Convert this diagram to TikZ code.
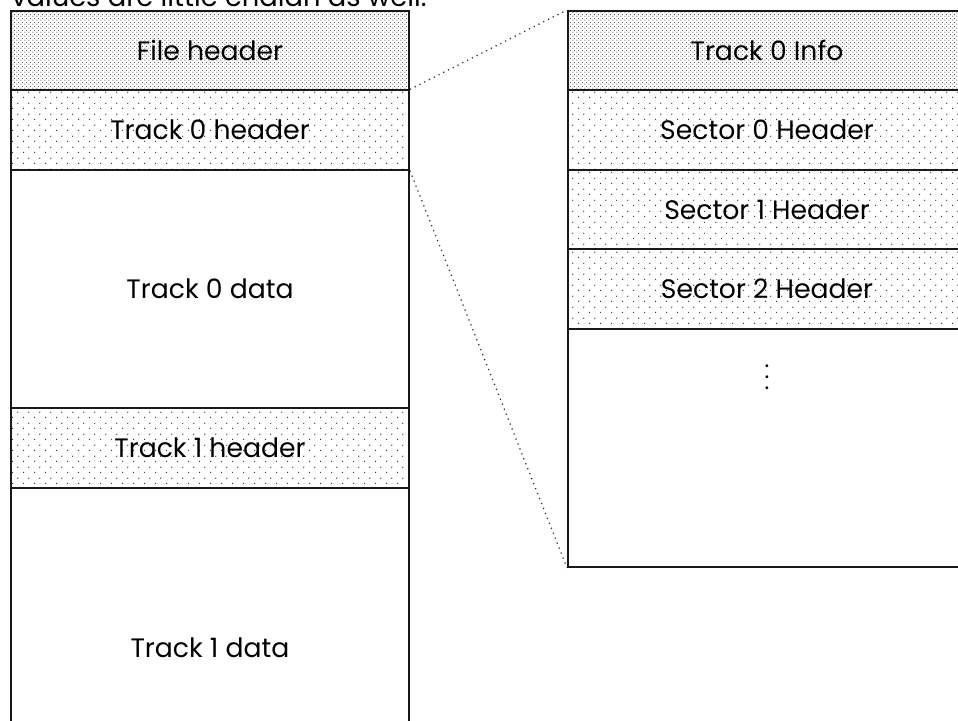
\documentclass[tikz,border=0pt]{standalone}
\usepackage{fontspec}
\setmainfont{Poppins}
\usetikzlibrary{patterns.meta}
\tikzdeclarepattern{name=sparsedots, type=uncolored, bounding box={(0pt,0pt) and (8pt,8pt)}, tile size={(8pt,8pt)},
  code={\pgfpathcircle{\pgfqpoint{2pt}{2pt}}{0.5pt}\pgfpathcircle{\pgfqpoint{6pt}{6pt}}{0.5pt}\pgfusepath{fill}}}
\tikzdeclarepattern{name=densedots, type=uncolored, bounding box={(0pt,0pt) and (3pt,3pt)}, tile size={(3pt,3pt)},
  code={\pgfpathcircle{\pgfqpoint{0.75pt}{0.75pt}}{0.5pt}\pgfpathcircle{\pgfqpoint{2.25pt}{2.25pt}}{0.5pt}\pgfusepath{fill}}}
\tikzset{
  band/.style={draw=black!90, line width=1.4pt, rectangle, inner sep=0pt, minimum width=298.5pt, font=\fontsize{20}{22}\selectfont, text=black},
  hdr/.style={band, minimum height=59.5pt, pattern={sparsedots}, pattern color=black!85},
  dhdr/.style={band, minimum height=59.5pt, pattern={densedots}, pattern color=black!75},
  zoomline/.style={line width=0.9pt, dash pattern=on 0.9pt off 3.1pt, black!85},
}
\begin{document}
\begin{tikzpicture}[x=0.75pt,y=-0.75pt]
\useasboundingbox (0,0) rectangle (958,721);
\clip (0,0) rectangle (958,721);
% clipped caption line at the top
\node[anchor=base west, inner sep=0pt, font=\fontsize{20.5}{22}\selectfont] (cap) at (11,7) {values are little endian as well.};
% left column
\node[dhdr] (fh) at (210,50.5) {File header};
\node[hdr] (t0h) at (210,130) {Track 0 header};
\node[band, minimum height=178.5pt] (t0d) at (210,289) {Track 0 data};
\node[hdr] (t1h) at (210,448) {Track 1 header};
\node[band, minimum height=240pt] (t1d) at (210,648) {Track 1 data};
% right column
\node[dhdr] (ti) at (767,50.5) {Track 0 Info};
\node[hdr] (s0) at (767,130) {Sector 0 Header};
\node[hdr] (s1) at (767,209.5) {Sector 1 Header};
\node[hdr] (s2) at (767,289) {Sector 2 Header};
\node[band, minimum height=178.5pt] (rest) at (767,448) {};
\node[inner sep=0pt, anchor=base, align=center, font=\fontsize{17}{7.9pt}\selectfont] (dots) at (767,389) {.\\.\\.};
% zoom lines
\draw[zoomline] (t0h.north east) -- (ti.north west);
\draw[zoomline] (t0h.south east) -- (rest.south west);
\end{tikzpicture}
\end{document}
